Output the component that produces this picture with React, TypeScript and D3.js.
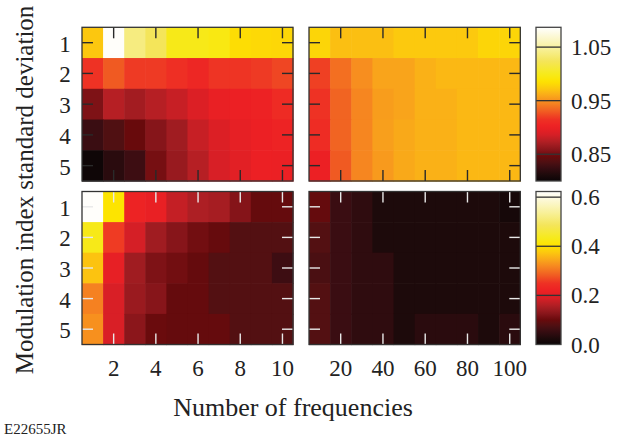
import React from "react";
import * as d3 from "d3";

// ---------- data ----------
const rowLabels = [1, 2, 3, 4, 5];
const freqLow = [1, 2, 3, 4, 5, 6, 7, 8, 9, 10];
const freqHigh = [10, 20, 30, 40, 50, 60, 70, 80, 90, 100];
const ticksLow = [2, 4, 6, 8, 10];
const ticksHigh = [20, 40, 60, 80, 100];
const ratioTicks = [0.85, 0.95, 1.05];
const ratioTickLabels = ["0.85", "0.95", "1.05"];
const errTicks = [0.0, 0.2, 0.4, 0.6];
const errTickLabels = ["0.0", "0.2", "0.4", "0.6"];
const ratioDomain = [0.8, 1.087];
const errDomain = [0, 0.623];

// top row: rows = std dev 1..5, cols = frequencies
const ratioLow = [
  [0.972, 1.085, 1.038, 1.024, 0.998, 0.998, 0.995, 0.983, 0.981, 0.98],
  [0.915, 0.929, 0.918, 0.918, 0.913, 0.906, 0.916, 0.916, 0.918, 0.922],
  [0.854, 0.875, 0.868, 0.875, 0.881, 0.89, 0.898, 0.9, 0.902, 0.91],
  [0.826, 0.836, 0.846, 0.857, 0.867, 0.881, 0.89, 0.896, 0.9, 0.903],
  [0.803, 0.818, 0.827, 0.851, 0.864, 0.875, 0.888, 0.894, 0.9, 0.899],
];
const ratioHigh = [
  [0.979, 0.969, 0.969, 0.969, 0.973, 0.973, 0.973, 0.973, 0.979, 0.979],
  [0.92, 0.937, 0.949, 0.958, 0.958, 0.963, 0.966, 0.966, 0.966, 0.966],
  [0.915, 0.933, 0.946, 0.955, 0.958, 0.963, 0.963, 0.966, 0.966, 0.966],
  [0.911, 0.933, 0.946, 0.956, 0.96, 0.963, 0.963, 0.966, 0.966, 0.966],
  [0.9, 0.929, 0.946, 0.954, 0.96, 0.963, 0.963, 0.966, 0.966, 0.966],
];
const errLow = [
  [0.62, 0.405, 0.224, 0.213, 0.174, 0.156, 0.15, 0.123, 0.097, 0.097],
  [0.43, 0.257, 0.187, 0.145, 0.125, 0.108, 0.098, 0.081, 0.081, 0.081],
  [0.37, 0.21, 0.145, 0.117, 0.108, 0.097, 0.081, 0.081, 0.081, 0.059],
  [0.312, 0.192, 0.14, 0.125, 0.097, 0.097, 0.081, 0.081, 0.081, 0.081],
  [0.325, 0.192, 0.128, 0.101, 0.097, 0.097, 0.097, 0.081, 0.081, 0.081],
];
const errHigh = [
  [0.097, 0.056, 0.044, 0.025, 0.025, 0.025, 0.025, 0.025, 0.025, 0.016],
  [0.081, 0.056, 0.044, 0.025, 0.025, 0.025, 0.025, 0.025, 0.025, 0.025],
  [0.072, 0.056, 0.044, 0.044, 0.025, 0.025, 0.025, 0.025, 0.025, 0.025],
  [0.081, 0.056, 0.044, 0.044, 0.025, 0.025, 0.025, 0.025, 0.025, 0.025],
  [0.081, 0.056, 0.044, 0.044, 0.025, 0.039, 0.039, 0.039, 0.025, 0.039],
];

// colour map (hot-like, as printed)
const cmapStops = [0, 0.04, 0.09, 0.13, 0.16, 0.2, 0.25, 0.3, 0.35, 0.4, 0.45, 0.5, 0.55, 0.6, 0.65, 0.7, 0.78, 0.85, 0.93, 1.0];
const cmapColors = ["#0a0406", "#1d0a0b", "#3a0d12", "#531012", "#680a0c", "#87151a", "#ad1f24", "#d51f26", "#ed2024", "#ee3124", "#f05a22", "#f58021", "#f9a41b", "#fcc70f", "#fde400", "#f6ea1e", "#f4e55a", "#f7ef90", "#fbf7cc", "#ffffff"];

// ---------- layout ----------
const W = 630;
const H = 438;
const FONT = "'Liberation Serif', 'Times New Roman', serif";
const colLeft = [82, 293];
const colRight = [309, 520.3];
const rowTop = [27.3, 181];
const rowBottom = [191.5, 344.5];
const cbX = [536, 561];
const TICK = 11;

const cmap = d3
  .scaleLinear<string>()
  .domain(cmapStops)
  .range(cmapColors)
  .interpolate(d3.interpolateRgb)
  .clamp(true);

function Heat({ values, cols, ticks, xr, yr, domain, tickColor }: any) {
  const xs = d3.scaleBand<string>().domain(cols.map(String)).range(xr);
  const ys = d3.scaleBand<string>().domain(rowLabels.map(String)).range(yr);
  const norm = d3.scaleLinear().domain(domain).range([0, 1]).clamp(true);
  const bw = xs.bandwidth();
  const bh = ys.bandwidth();
  return (
    <g>
      {values.map((row: number[], i: number) =>
        row.map((v: number, j: number) => (
          <rect
            key={`${i}-${j}`}
            x={xs(String(cols[j]))}
            y={ys(String(rowLabels[i]))}
            width={bw + 0.6}
            height={bh + 0.6}
            fill={cmap(norm(v))}
          />
        ))
      )}
      {ticks.map((t: number) => {
        const x = (xs(String(t)) as number) + bw / 2;
        return (
          <g key={`xt${t}`} stroke={tickColor} strokeWidth={1.4}>
            <line x1={x} x2={x} y1={yr[0]} y2={yr[0] + TICK} />
            <line x1={x} x2={x} y1={yr[1] - TICK} y2={yr[1]} />
          </g>
        );
      })}
      {rowLabels.map((r) => {
        const y = (ys(String(r)) as number) + bh / 2;
        return (
          <g key={`yt${r}`} stroke={tickColor} strokeWidth={1.4}>
            <line x1={xr[0]} x2={xr[0] + TICK} y1={y} y2={y} />
            <line x1={xr[1] - TICK} x2={xr[1]} y1={y} y2={y} />
          </g>
        );
      })}
      <rect
        x={xr[0]}
        y={yr[0]}
        width={xr[1] - xr[0]}
        height={yr[1] - yr[0]}
        fill="none"
        stroke="#333"
        strokeWidth={1.3}
      />
    </g>
  );
}

function YLabels({ yr }: any) {
  const ys = d3.scaleBand<string>().domain(rowLabels.map(String)).range(yr);
  return (
    <g fontFamily={FONT} fontSize={23} fill="#222" textAnchor="middle">
      {rowLabels.map((r) => (
        <text key={r} x={65} y={(ys(String(r)) as number) + ys.bandwidth() / 2 + 9}>
          {r}
        </text>
      ))}
    </g>
  );
}

function XLabels({ cols, ticks, xr }: any) {
  const xs = d3.scaleBand<string>().domain(cols.map(String)).range(xr);
  return (
    <g fontFamily={FONT} fontSize={23} fill="#222" textAnchor="middle">
      {ticks.map((t: number) => (
        <text key={t} x={(xs(String(t)) as number) + xs.bandwidth() / 2} y={376}>
          {t}
        </text>
      ))}
    </g>
  );
}

function ColorBar({ id, domain, ticks, labels, yr }: any) {
  const y = d3.scaleLinear().domain(domain).range([yr[1], yr[0]]);
  const stops = d3.range(0, 1.0001, 0.02);
  return (
    <g>
      <defs>
        <linearGradient id={id} x1="0" y1="1" x2="0" y2="0">
          {stops.map((s) => (
            <stop key={s} offset={s} stopColor={cmap(s)} />
          ))}
        </linearGradient>
      </defs>
      <rect x={cbX[0]} y={yr[0]} width={cbX[1] - cbX[0]} height={yr[1] - yr[0]} fill={`url(#${id})`} />
      {ticks.map((t: number) => {
        const yy = y(t);
        if (yy > yr[1] - 1) return null;
        return <line key={t} x1={cbX[0]} x2={cbX[1]} y1={yy} y2={yy} stroke="#333" strokeWidth={1.3} />;
      })}
      <rect
        x={cbX[0]}
        y={yr[0]}
        width={cbX[1] - cbX[0]}
        height={yr[1] - yr[0]}
        fill="none"
        stroke="#444"
        strokeWidth={1.3}
      />
      <g fontFamily={FONT} fontSize={23} fill="#222">
        {ticks.map((t: number, i: number) => (
          <text key={t} x={571} y={y(t) + 8}>
            {labels[i]}
          </text>
        ))}
      </g>
    </g>
  );
}

export default function App() {
  return (
    <svg
      width={W}
      height={H}
      viewBox={`0 0 ${W} ${H}`}
      style={{ position: "absolute", left: 0, top: 0, background: "#fff" }}
    >
      <rect x={0} y={0} width={W} height={H} fill="#fff" />
      <Heat values={ratioLow} cols={freqLow} ticks={ticksLow} xr={colLeft} yr={rowTop} domain={ratioDomain} tickColor="#2a2a2a" />
      <Heat values={ratioHigh} cols={freqHigh} ticks={ticksHigh} xr={colRight} yr={rowTop} domain={ratioDomain} tickColor="#2a2a2a" />
      <Heat values={errLow} cols={freqLow} ticks={ticksLow} xr={colLeft} yr={rowBottom} domain={errDomain} tickColor="#e8e8e8" />
      <Heat values={errHigh} cols={freqHigh} ticks={ticksHigh} xr={colRight} yr={rowBottom} domain={errDomain} tickColor="#e8e8e8" />
      <ColorBar id="cbTop" domain={ratioDomain} ticks={ratioTicks} labels={ratioTickLabels} yr={rowTop} />
      <ColorBar id="cbBot" domain={errDomain} ticks={errTicks} labels={errTickLabels} yr={rowBottom} />
      <YLabels yr={rowTop} />
      <YLabels yr={rowBottom} />
      <XLabels cols={freqLow} ticks={ticksLow} xr={colLeft} />
      <XLabels cols={freqHigh} ticks={ticksHigh} xr={colRight} />
      <text
        transform={`translate(33, 190) rotate(-90)`}
        textAnchor="middle"
        fontFamily={FONT}
        fontSize={25}
        fill="#222"
      >
        Modulation index standard deviation
      </text>
      <text x={293} y={416} textAnchor="middle" fontFamily={FONT} fontSize={26} fill="#222">
        Number of frequencies
      </text>
      <text x={4} y={434} fontFamily={FONT} fontSize={15} fill="#222">
        E22655JR
      </text>
    </svg>
  );
}
